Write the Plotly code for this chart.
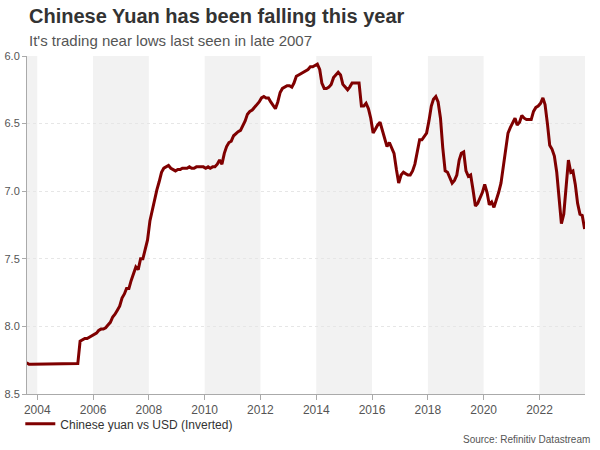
import pandas as pd
import plotly.graph_objects as go

# monthly readings, Aug 2003 .. Aug 2023 (CNY per USD)
MONTHS = pd.date_range("2003-08-01", "2023-08-01", freq="MS") + pd.Timedelta(days=14)
CNY = [
    8.27, 8.28, 8.28, 8.28, 8.28,  # 2003
    8.28, 8.28, 8.28, 8.28, 8.28, 8.28, 8.28, 8.275, 8.275, 8.275, 8.275, 8.275,
    8.275, 8.275, 8.275, 8.275, 8.275, 8.275, 8.11, 8.10, 8.09, 8.09, 8.08, 8.07,
    8.06, 8.05, 8.03, 8.02, 8.02, 8.01, 7.99, 7.97, 7.93, 7.91, 7.88, 7.85,
    7.79, 7.76, 7.72, 7.72, 7.66, 7.60, 7.56, 7.58, 7.50, 7.50, 7.42, 7.36,
    7.22, 7.14, 7.05, 6.99, 6.93, 6.86, 6.83, 6.82, 6.81, 6.83, 6.84, 6.85,
    6.84, 6.84, 6.83, 6.83, 6.83, 6.82, 6.83, 6.83, 6.82, 6.82, 6.82, 6.82,
    6.83, 6.82, 6.83, 6.82, 6.82, 6.80, 6.77, 6.80, 6.72, 6.67, 6.64, 6.63,
    6.59, 6.57, 6.56, 6.55, 6.52, 6.48, 6.43, 6.41, 6.40, 6.38, 6.36, 6.34,
    6.31, 6.30, 6.31, 6.31, 6.34, 6.37, 6.39, 6.34, 6.27, 6.24, 6.23, 6.22,
    6.22, 6.23, 6.20, 6.15, 6.14, 6.13, 6.12, 6.11, 6.10, 6.08, 6.08, 6.07,
    6.06, 6.10, 6.20, 6.24, 6.24, 6.23, 6.21, 6.16, 6.14, 6.12, 6.14, 6.21,
    6.23, 6.25, 6.23, 6.20, 6.20, 6.20, 6.20, 6.37, 6.37, 6.35, 6.39, 6.46,
    6.57, 6.54, 6.51, 6.49, 6.55, 6.62, 6.67, 6.64, 6.68, 6.72, 6.84, 6.94,
    6.88, 6.86, 6.87, 6.88, 6.88, 6.85, 6.80, 6.70, 6.62, 6.62, 6.59, 6.57,
    6.48, 6.37, 6.32, 6.30, 6.34, 6.46, 6.68, 6.85, 6.86, 6.90, 6.94, 6.92,
    6.88, 6.77, 6.72, 6.71, 6.85, 6.89, 6.88, 6.99, 7.11, 7.09, 7.05, 7.01,
    6.95, 7.01, 7.10, 7.08, 7.12, 7.07, 7.01, 6.94, 6.82, 6.69, 6.57, 6.53,
    6.50, 6.46, 6.51, 6.49, 6.44, 6.46, 6.47, 6.47, 6.47, 6.41, 6.38, 6.37,
    6.35, 6.31, 6.36, 6.50, 6.66, 6.69, 6.74, 6.86, 7.09, 7.24, 7.17, 6.94,
    6.77, 6.86, 6.85, 6.95, 7.09, 7.17, 7.18, 7.28,  # 2023
]

X_RANGE = ["2003-08-20", "2023-08-20"]
LINE_COLOR = "#7f0000"

fig = go.Figure()
fig.add_trace(go.Scatter(
    x=MONTHS, y=CNY,
    mode="lines", name="Chinese yuan vs USD (Inverted)",
    line=dict(color=LINE_COLOR, width=3),
))

# alternating two-year shading
for yr in range(2002, 2024, 4):
    x0 = max(pd.Timestamp(f"{yr}-01-01"), pd.Timestamp(X_RANGE[0]))
    x1 = min(pd.Timestamp(f"{yr + 2}-01-01"), pd.Timestamp(X_RANGE[1]))
    fig.add_shape(type="rect", xref="x", yref="paper", x0=x0, x1=x1, y0=0, y1=1,
                  fillcolor="#f2f2f2", line_width=0, layer="below")

fig.add_annotation(text="<b>Chinese Yuan has been falling this year</b>",
                   xref="paper", yref="paper", x=0, y=(396 - 16) / 340,
                   xanchor="left", yanchor="middle", showarrow=False,
                   font=dict(size=20, color="#333333"))
fig.add_annotation(text="It's trading near lows last seen in late 2007",
                   xref="paper", yref="paper", x=0, y=(396 - 40) / 340,
                   xanchor="left", yanchor="middle", showarrow=False,
                   font=dict(size=15, color="#555555"))
fig.add_annotation(text="Source: Refinitiv Datastream",
                   xref="paper", yref="paper", x=1.013, y=(396 - 442) / 340,
                   xanchor="right", yanchor="middle", showarrow=False,
                   font=dict(size=10, color="#555555"))

fig.update_layout(
    width=600, height=450,
    template="plotly_white",
    font=dict(family="Liberation Sans, Arial, sans-serif", color="#555555"),
    margin=dict(l=27, r=15, t=56, b=54),
    plot_bgcolor="white",
    showlegend=True,
    legend=dict(orientation="h", x=-0.012, y=(396 - 426) / 340,
                xanchor="left", yanchor="middle", bgcolor="rgba(0,0,0,0)",
                font=dict(size=12, color="#333333")),
    xaxis=dict(
        type="date", range=X_RANGE, tick0="2004-01-01", dtick="M24",
        tickformat="%Y", showgrid=False, zeroline=False, automargin=False,
        showline=True, linecolor="#aaaaaa", linewidth=1,
        ticks="outside", ticklen=5, tickcolor="#aaaaaa",
        tickfont=dict(size=12, color="#555555"),
    ),
    yaxis=dict(
        range=[8.5, 6.0], dtick=0.5, tickformat=".1f", automargin=False,
        showgrid=True, gridcolor="#e6e6e6", griddash="dot", zeroline=False,
        showline=True, linecolor="#aaaaaa", linewidth=1,
        ticks="outside", ticklen=4, tickcolor="#aaaaaa",
        tickfont=dict(size=11, color="#555555"),
    ),
)

fig.write_html("out.html", config={"displayModeBar": False},
               post_script="document.body.style.margin='0px';")
